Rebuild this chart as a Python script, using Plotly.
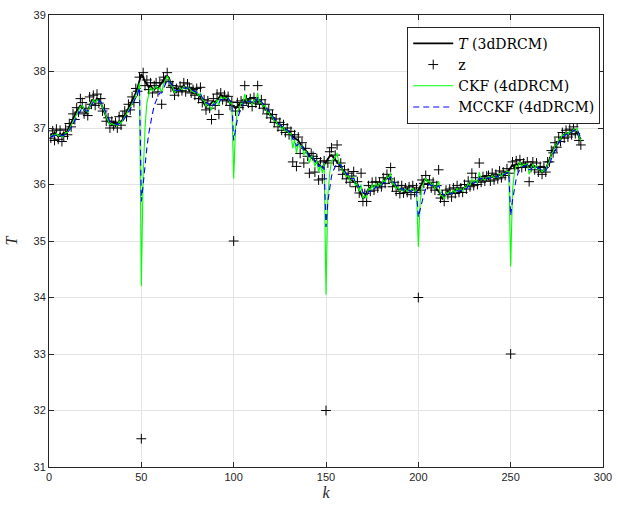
import plotly.graph_objects as go

# ---- data ----
T_vals = [
    36.90, 36.86, 36.92, 36.88, 36.85, 36.90, 36.87, 36.92, 36.90, 36.95,
    37.02, 37.10, 37.18, 37.22, 37.30, 37.35, 37.40, 37.38, 37.32, 37.27,
    37.30, 37.40, 37.48, 37.50, 37.46, 37.52, 37.50, 37.45, 37.38, 37.28,
    37.20, 37.12, 37.08, 37.06, 37.10, 37.05, 37.08, 37.12, 37.10, 37.15,
    37.22, 37.28, 37.35, 37.40, 37.48, 37.55, 37.62, 37.72, 37.85, 37.95,
    37.90, 37.82, 37.78, 37.72, 37.75, 37.70, 37.68, 37.72, 37.70, 37.75,
    37.78, 37.85, 37.90, 37.92, 37.88, 37.78, 37.68, 37.62, 37.65, 37.70,
    37.68, 37.72, 37.75, 37.70, 37.72, 37.66, 37.70, 37.62, 37.65, 37.60,
    37.58, 37.55, 37.50, 37.45, 37.38, 37.42, 37.40, 37.45, 37.48, 37.45,
    37.50, 37.55, 37.58, 37.55, 37.52, 37.55, 37.50, 37.45, 37.40, 37.38,
    37.35, 37.38, 37.42, 37.40, 37.45, 37.48, 37.45, 37.50, 37.46, 37.42,
    37.48, 37.50, 37.46, 37.48, 37.44, 37.40, 37.36, 37.30, 37.25, 37.22,
    37.18, 37.15, 37.10, 37.08, 37.05, 37.02, 37.00, 36.98, 36.95, 36.92,
    36.88, 36.85, 36.82, 36.80, 36.78, 36.72, 36.68, 36.62, 36.58, 36.55,
    36.50, 36.48, 36.45, 36.42, 36.40, 36.36, 36.32, 36.30, 36.35, 36.40,
    36.45, 36.50, 36.52, 36.48, 36.45, 36.42, 36.38, 36.32, 36.25, 36.20,
    36.15, 36.12, 36.10, 36.08, 36.05, 36.02, 35.98, 35.90, 35.82, 35.76,
    35.78, 35.85, 35.92, 35.95, 35.98, 35.96, 35.98, 36.00, 35.98, 36.02,
    36.05, 36.08, 36.12, 36.15, 36.10, 36.02, 35.98, 35.95, 35.92, 35.90,
    35.92, 35.90, 35.88, 35.92, 35.90, 35.88, 35.92, 35.90, 35.88, 35.90,
    35.95, 36.02, 36.08, 36.10, 36.06, 36.02, 36.00, 35.98, 35.95, 35.92,
    35.88, 35.82, 35.75, 35.78, 35.85, 35.88, 35.86, 35.84, 35.88, 35.90,
    35.92, 35.90, 35.88, 35.92, 35.95, 35.98, 36.00, 36.02, 36.00, 36.05,
    36.06, 36.04, 36.08, 36.10, 36.08, 36.10, 36.12, 36.10, 36.12, 36.15,
    36.14, 36.12, 36.16, 36.18, 36.15, 36.18, 36.20, 36.22, 36.25, 36.30,
    36.35, 36.32, 36.36, 36.34, 36.38, 36.35, 36.33, 36.36, 36.34, 36.32,
    36.35, 36.33, 36.30, 36.32, 36.28, 36.25, 36.22, 36.25, 36.28, 36.35,
    36.45, 36.55, 36.62, 36.68, 36.72, 36.78, 36.82, 36.85, 36.88, 36.90,
    36.88, 36.92, 36.95, 36.98, 36.95, 36.92, 36.85, 36.80,
]

z_vals = [
    36.82, 36.95, 36.78, 36.98, 36.80, 36.96, 36.76, 36.85, 36.98, 36.88,
    37.08, 37.02, 37.25, 37.15, 37.36, 37.28, 37.52, 37.45, 37.25, 37.35,
    37.22, 37.55, 37.42, 37.58, 37.40, 37.60, 37.44, 37.52, 37.30, 37.34,
    37.12, 37.18, 37.00, 37.12, 37.04, 37.10, 37.00, 37.20, 37.05, 37.22,
    37.30, 37.20, 37.42, 37.32, 37.55, 37.45, 37.70, 37.65, 37.90, 31.50,
    37.98, 37.75, 37.85, 37.68, 37.80, 37.62, 37.75, 37.80, 37.64, 37.80,
    37.42, 37.90, 37.85, 37.98, 37.82, 37.72, 37.75, 37.58, 37.70, 37.64,
    37.74, 37.66, 37.80, 37.64, 37.78, 37.72, 37.62, 37.68, 37.58, 37.70,
    37.52, 37.72, 37.45, 37.50, 37.32, 37.48, 37.35, 37.15, 37.52, 37.40,
    37.60, 37.24, 37.62, 37.50, 37.58, 37.48, 37.56, 37.40, 37.46, 35.00,
    37.30, 37.45, 37.36, 37.48, 37.40, 37.75, 37.50, 37.44, 37.52, 37.38,
    37.54, 37.44, 37.75, 37.42, 37.50, 37.35, 37.42, 37.25, 37.32, 37.18,
    37.24, 37.10, 37.16, 37.02, 37.10, 36.96, 37.06, 36.92, 37.00, 36.88,
    36.94, 36.40, 36.88, 36.32, 36.84, 36.55, 36.74, 36.38, 36.64, 36.50,
    36.20, 36.55, 36.50, 36.22, 36.46, 36.08, 36.40, 36.10, 36.42, 32.00,
    36.38, 36.58, 36.65, 36.42, 36.52, 36.70, 36.32, 36.38, 36.18, 36.26,
    36.10, 36.20, 36.04, 36.15, 36.23, 35.96, 36.05, 35.85, 36.20, 35.70,
    35.84, 35.70, 35.98, 35.88, 36.04, 35.90, 36.05, 35.94, 36.04, 35.96,
    36.12, 36.02, 36.18, 36.10, 36.30, 35.96, 36.04, 35.88, 35.98, 35.84,
    35.98, 35.85, 35.94, 35.86, 35.96, 35.82, 35.98, 35.86, 35.94, 34.00,
    35.90, 36.08, 36.02, 36.16, 36.00, 36.08, 35.94, 36.04, 35.90, 35.98,
    36.26, 35.76, 35.82, 35.70, 35.90, 35.82, 35.92, 35.78, 35.94, 35.84,
    35.98, 35.86, 35.94, 35.86, 36.00, 35.92, 36.06, 35.96, 36.20, 35.98,
    36.12, 36.00, 36.38, 36.04, 36.14, 36.06, 36.15, 36.16, 36.06, 36.20,
    36.08, 36.18, 36.10, 36.24, 36.12, 36.22, 36.16, 36.28, 36.20, 33.00,
    36.40, 36.28, 36.42, 36.30, 36.44, 36.30, 36.38, 36.32, 36.40, 36.05,
    36.30, 36.40, 36.26, 36.38, 36.22, 36.32, 36.18, 36.30, 36.22, 36.40,
    36.40, 36.60, 36.56, 36.74, 36.66, 36.84, 36.76, 36.92, 36.82, 36.96,
    36.84, 36.98, 36.88, 37.02, 36.90, 37.10, 36.78, 36.70,
]

ckf_vals = [
    36.85, 36.88, 36.86, 36.90, 36.86, 36.88, 36.84, 36.86, 36.92, 36.92,
    36.98, 37.05, 37.12, 37.18, 37.25, 37.30, 37.38, 37.40, 37.32, 37.30,
    37.28, 37.38, 37.44, 37.50, 37.45, 37.50, 37.48, 37.46, 37.36, 37.30,
    37.20, 37.14, 37.06, 37.08, 37.06, 37.06, 37.04, 37.12, 37.08, 37.14,
    37.20, 37.24, 37.32, 37.36, 37.44, 37.48, 37.58, 37.64, 37.80, 34.20,
    36.20, 37.00, 37.45, 37.62, 37.72, 37.66, 37.70, 37.74, 37.68, 37.72,
    37.62, 37.78, 37.84, 37.92, 37.86, 37.76, 37.72, 37.62, 37.66, 37.66,
    37.70, 37.68, 37.74, 37.68, 37.72, 37.70, 37.66, 37.64, 37.62, 37.64,
    37.56, 37.62, 37.50, 37.48, 37.38, 37.44, 37.38, 37.32, 37.46, 37.42,
    37.50, 37.40, 37.56, 37.52, 37.54, 37.52, 37.54, 37.44, 37.44, 36.10,
    37.00, 37.30, 37.34, 37.44, 37.42, 37.60, 37.48, 37.46, 37.50, 37.40,
    37.50, 37.46, 37.62, 37.44, 37.46, 37.38, 37.40, 37.28, 37.28, 37.20,
    37.20, 37.12, 37.12, 37.04, 37.06, 36.98, 37.02, 36.94, 36.96, 36.90,
    36.90, 36.64, 36.80, 36.56, 36.74, 36.64, 36.70, 36.52, 36.60, 36.52,
    36.38, 36.50, 36.48, 36.32, 36.42, 36.22, 36.36, 36.20, 36.38, 34.05,
    35.80, 36.20, 36.42, 36.44, 36.48, 36.56, 36.36, 36.36, 36.22, 36.22,
    36.14, 36.16, 36.06, 36.10, 36.14, 35.98, 36.02, 35.88, 36.00, 35.76,
    35.80, 35.76, 35.94, 35.90, 36.00, 35.92, 36.02, 35.96, 36.02, 35.98,
    36.08, 36.04, 36.14, 36.12, 36.20, 36.00, 36.02, 35.92, 35.96, 35.88,
    35.94, 35.88, 35.92, 35.88, 35.92, 35.86, 35.94, 35.88, 35.90, 34.90,
    35.70, 35.95, 36.04, 36.12, 36.04, 36.06, 35.98, 36.02, 35.92, 35.96,
    36.06, 35.80, 35.80, 35.74, 35.86, 35.84, 35.88, 35.82, 35.90, 35.86,
    35.94, 35.88, 35.92, 35.88, 35.96, 35.94, 36.02, 35.98, 36.10, 36.02,
    36.08, 36.02, 36.22, 36.08, 36.10, 36.08, 36.12, 36.14, 36.10, 36.16,
    36.12, 36.14, 36.12, 36.20, 36.14, 36.20, 36.18, 36.24, 36.22, 34.55,
    35.90, 36.20, 36.34, 36.32, 36.40, 36.32, 36.36, 36.34, 36.38, 36.18,
    36.28, 36.36, 36.28, 36.34, 36.26, 36.28, 36.22, 36.26, 36.24, 36.36,
    36.40, 36.54, 36.58, 36.70, 36.70, 36.80, 36.80, 36.88, 36.86, 36.92,
    36.88, 36.94, 36.92, 36.98, 36.94, 37.00, 36.86, 36.78,
]

mcckf_vals = [
    36.84, 36.86, 36.86, 36.88, 36.87, 36.88, 36.86, 36.87, 36.90, 36.92,
    36.96, 37.02, 37.08, 37.14, 37.20, 37.26, 37.32, 37.36, 37.34, 37.30,
    37.30, 37.35, 37.42, 37.46, 37.46, 37.48, 37.48, 37.46, 37.40, 37.33,
    37.25, 37.18, 37.12, 37.09, 37.08, 37.07, 37.06, 37.08, 37.09, 37.12,
    37.17, 37.22, 37.28, 37.33, 37.40, 37.46, 37.54, 37.60, 37.72, 35.70,
    36.00, 36.35, 36.65, 36.90, 37.10, 37.25, 37.40, 37.50, 37.56, 37.62,
    37.62, 37.70, 37.78, 37.84, 37.84, 37.80, 37.74, 37.68, 37.66, 37.66,
    37.68, 37.68, 37.71, 37.70, 37.71, 37.70, 37.68, 37.66, 37.64, 37.63,
    37.59, 37.60, 37.54, 37.50, 37.44, 37.44, 37.40, 37.36, 37.42, 37.42,
    37.47, 37.44, 37.50, 37.51, 37.52, 37.52, 37.53, 37.48, 37.46, 36.78,
    37.00, 37.15, 37.26, 37.34, 37.40, 37.50, 37.48, 37.47, 37.48, 37.44,
    37.47, 37.46, 37.54, 37.48, 37.47, 37.42, 37.41, 37.34, 37.31, 37.25,
    37.22, 37.16, 37.14, 37.08, 37.07, 37.02, 37.02, 36.97, 36.97, 36.93,
    36.92, 36.80, 36.80, 36.68, 36.72, 36.67, 36.68, 36.60, 36.60, 36.56,
    36.47, 36.49, 36.48, 36.40, 36.41, 36.32, 36.34, 36.27, 36.32, 35.25,
    35.70, 35.98, 36.15, 36.25, 36.32, 36.38, 36.36, 36.35, 36.28, 36.25,
    36.19, 36.17, 36.11, 36.10, 36.11, 36.04, 36.03, 35.95, 35.98, 35.86,
    35.84, 35.80, 35.87, 35.88, 35.93, 35.92, 35.96, 35.95, 35.98, 35.97,
    36.03, 36.03, 36.08, 36.09, 36.14, 36.06, 36.04, 35.98, 35.97, 35.92,
    35.93, 35.90, 35.91, 35.89, 35.90, 35.87, 35.90, 35.88, 35.89, 35.42,
    35.56, 35.70, 35.82, 35.92, 35.98, 36.00, 35.98, 35.99, 35.95, 35.95,
    35.98, 35.90, 35.86, 35.80, 35.82, 35.82, 35.85, 35.83, 35.86, 35.85,
    35.89, 35.88, 35.90, 35.89, 35.92, 35.92, 35.97, 35.97, 36.03, 36.02,
    36.05, 36.03, 36.12, 36.10, 36.10, 36.09, 36.11, 36.12, 36.11, 36.14,
    36.13, 36.14, 36.13, 36.17, 36.15, 36.18, 36.18, 36.21, 36.21, 35.45,
    35.72, 35.95, 36.10, 36.20, 36.27, 36.30, 36.32, 36.33, 36.35, 36.26,
    36.27, 36.31, 36.29, 36.31, 36.28, 36.28, 36.24, 36.25, 36.24, 36.30,
    36.35, 36.45, 36.52, 36.62, 36.66, 36.74, 36.77, 36.84, 36.85, 36.89,
    36.88, 36.92, 36.92, 36.96, 36.95, 36.98, 36.90, 36.82,
]

x_ticks = [0, 50, 100, 150, 200, 250, 300]
y_ticks = [31, 32, 33, 34, 35, 36, 37, 38, 39]

series_names = ["<i>T</i> (3dDRCM)", "z", "CKF (4dDRCM)", "MCCKF (4dDRCM)"]


def ks(vals):
    return list(range(1, len(vals) + 1))


fig = go.Figure()
fig.add_trace(go.Scatter(x=ks(T_vals), y=T_vals, mode="lines", name=series_names[0],
                         line=dict(color="black", width=1.8)))
fig.add_trace(go.Scatter(x=ks(z_vals), y=z_vals, mode="markers", name=series_names[1],
                         marker=dict(symbol="cross-thin", size=7, color="black",
                                     line=dict(color="black", width=1))))
fig.add_trace(go.Scatter(x=ks(ckf_vals), y=ckf_vals, mode="lines", name=series_names[2],
                         line=dict(color="#00ff00", width=1.1)))
fig.add_trace(go.Scatter(x=ks(mcckf_vals), y=mcckf_vals, mode="lines", name=series_names[3],
                         line=dict(color="#0000ff", width=1.1, dash="6px,4px")))

axis_common = dict(
    showgrid=True, gridcolor="#e3e3e3", gridwidth=1,
    showline=True, linecolor="#262626", linewidth=1, mirror="ticks",
    ticks="inside", ticklen=5, tickcolor="#262626",
    tickfont=dict(family="Liberation Sans, Arial, sans-serif", size=11, color="#262626"),
    zeroline=False, automargin=False,
)

fig.update_layout(
    width=618, height=507,
    margin=dict(l=49, r=15, t=15, b=40, autoexpand=False),
    paper_bgcolor="white", plot_bgcolor="white",
    xaxis=dict(range=[0, 300], tickvals=x_ticks, ticktext=[str(v) for v in x_ticks],
               title=dict(text="<i>k</i>", standoff=4,
                          font=dict(family="Liberation Serif, serif", size=16, color="#262626")),
               **axis_common),
    yaxis=dict(range=[31, 39], tickvals=y_ticks, ticktext=[str(v) for v in y_ticks],
               title=dict(text="<i>T</i>", standoff=11,
                          font=dict(family="Liberation Serif, serif", size=16, color="#262626")),
               **axis_common),
    legend=dict(x=0.995, xanchor="right", y=0.974, yanchor="top",
                bgcolor="white", bordercolor="#262626", borderwidth=1,
                font=dict(family="DejaVu Serif, serif", size=14, color="black"),
                itemwidth=40, tracegroupgap=0),
    showlegend=True,
)

fig.write_html("out.html",
               config={"displayModeBar": False},
               post_script="document.body.style.margin='0';document.body.style.padding='0';")
